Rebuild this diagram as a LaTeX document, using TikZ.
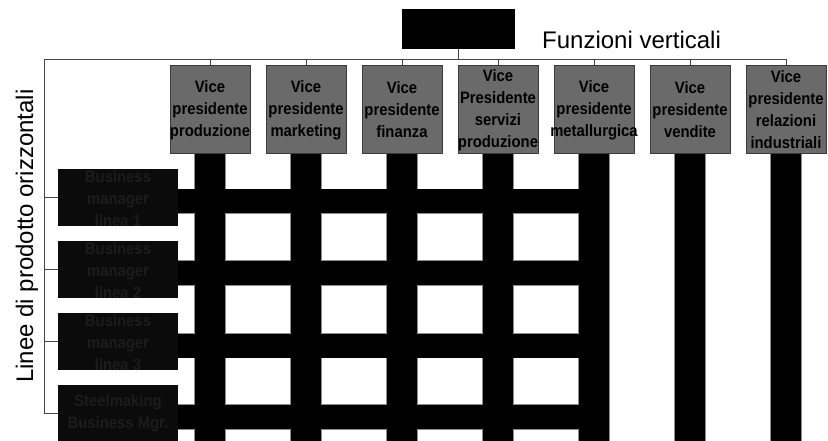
\documentclass[tikz,border=0pt]{standalone}
\usepackage{fontspec}
\setmainfont{Liberation Sans}
\newfontfamily\narrowbold{Liberation Sans}[FakeStretch=0.9, UprightFont=*-Bold]
\definecolor{vpgray}{HTML}{6A6A6A}
\definecolor{vpedge}{HTML}{3A3A3A}
\definecolor{bmfill}{HTML}{0B0B0B}
\definecolor{bmtext}{HTML}{1C1C1C}
\definecolor{linkgray}{HTML}{444444}
\definecolor{baredge}{HTML}{8C8C8C}

\begin{document}
\begin{tikzpicture}[x=1pt,y=-1pt,
  vpbox/.style={draw=vpedge, fill=vpgray, line width=0.8pt,
    minimum width=80pt, minimum height=88pt, inner sep=0pt},
  vptext/.style={font=\narrowbold\fontsize{16.5}{22}\selectfont, align=center, inner sep=0pt},
  bmbox/.style={fill=bmfill, minimum width=120pt, minimum height=57pt, inner sep=0pt},
  bmlabel/.style={vptext, text=bmtext},
  link/.style={draw=linkgray, line width=0.8pt},
  barfill/.style={fill=black},
  barrim/.style={draw=baredge, line width=1.2pt},
  title/.style={font=\fontsize{24}{28}\selectfont, inner sep=0pt}
]
\useasboundingbox (0,0) rectangle (828,441);

% chief executive box
\node[fill=black, minimum width=113pt, minimum height=40pt, inner sep=0pt] (ceo) at (458.5,29) {};

% vice presidents (vertical functions)
\foreach \i in {1,...,7} {
  \node[vpbox] (vp\i) at ({210+96*(\i-1)},109) {};
}

% product-line managers
\node[bmbox] (bm1) at (118,197.5) {};
\node[bmbox] (bm2) at (118,269) {};
\node[bmbox] (bm3) at (118,341.5) {};
\node[bmbox] (bm4) at (118,413) {};

% edges of the matrix grid
\coordinate (gridR) at (609,0);
\coordinate (floor) at (0,446);
\foreach \pass/\sty in {1/barrim, 2/barfill} {
  \foreach \i in {1,...,7} {
    \path[\sty] ([xshift=-15pt]vp\i.south) rectangle ([xshift=15pt]vp\i.south |- floor);
  }
  \foreach \i in {1,...,4} {
    \path[\sty] ([yshift=8pt]bm\i.east) rectangle ([yshift=-16pt]bm\i.east -| gridR);
  }
}

% boxes again on top of the grid
\foreach \i in {1,...,7} {
  \node[vpbox] at (vp\i) {};
}
\foreach \i in {1,...,4} {
  \node[bmbox] at (bm\i) {};
}

% box labels
\node[vptext] at ([yshift=-1pt]vp1) {Vice\\presidente\\produzione};
\node[vptext] at ([yshift=-1pt]vp2) {Vice\\presidente\\marketing};
\node[vptext] at ([yshift=-1pt]vp3) {Vice\\presidente\\finanza};
\node[vptext] at ([yshift=-1pt]vp4) {Vice\\Presidente\\servizi\\produzione};
\node[vptext] at ([yshift=-1pt]vp5) {Vice\\presidente\\metallurgica};
\node[vptext] at ([yshift=-1pt]vp6) {Vice\\presidente\\vendite};
\node[vptext] at ([yshift=-1pt]vp7) {Vice\\presidente\\relazioni\\industriali};

\node[bmlabel] at ([yshift=-1.5pt]bm1) {Business\\manager\\linea 1};
\node[bmlabel] at ([yshift=-1.5pt]bm2) {Business\\manager\\linea 2};
\node[bmlabel] at ([yshift=-1.5pt]bm3) {Business\\manager\\linea 3};
\node[bmlabel] at (bm4) {Steelmaking\\Business Mgr.};

% connectors
\coordinate (busL) at (44,59);
\coordinate (busR) at (786,59);
\draw[link] (busL) -- (busR);
\draw[link] (ceo.south) -- (ceo.south |- busL);
\foreach \i in {1,...,7} {
  \draw[link] (vp\i.north) -- (vp\i.north |- busL);
}
\draw[link] (busL) -- (busL |- bm4.west) -- (bm4.west);
\foreach \i in {1,...,3} {
  \draw[link] (bm\i.west -| busL) -- (bm\i.west);
}

% axis titles
\node[title, anchor=base west] (fv) at (542,49) {Funzioni verticali};
\node[title, rotate=90, anchor=base west] (lp) at (33,383) {Linee di prodotto orizzontali};
\end{tikzpicture}
\end{document}
